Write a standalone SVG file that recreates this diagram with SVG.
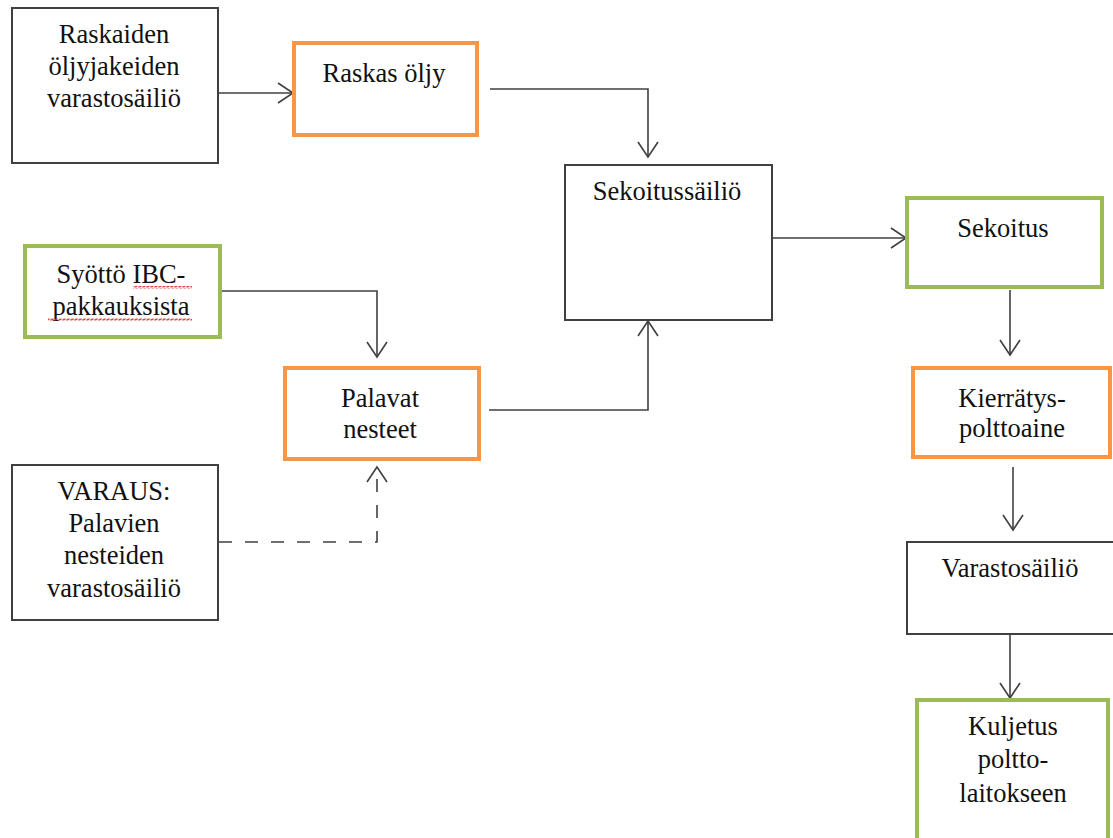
<svg xmlns="http://www.w3.org/2000/svg" width="1113" height="838" viewBox="0 0 1113 838">
<style>
.box{fill:#fff;stroke:#404040;stroke-width:2}
.orange{fill:#fff;stroke:#F79646;stroke-width:4}
.green{fill:#fff;stroke:#9BBB59;stroke-width:4}
text{font-family:"Liberation Serif","Times New Roman",serif;font-size:26.5px;fill:#111;text-anchor:middle}
.conn{fill:none;stroke:#404040;stroke-width:1.6}
.dash{stroke-dasharray:13 13}
</style>
<defs>
<marker id="arr" markerUnits="userSpaceOnUse" markerWidth="20" markerHeight="26" viewBox="-17 -13 20 26" refX="0" refY="0" orient="auto">
<path d="M-15,-10 L0,0 L-15,10" fill="none" stroke="#404040" stroke-width="1.6"/>
</marker>
<pattern id="squig" width="4" height="3" patternUnits="userSpaceOnUse">
<path d="M0,2.5 L1,0.5 L3,2.5 L4,0.5" fill="none" stroke="#e03030" stroke-width="0.9"/>
</pattern>
</defs>
<g id="connectors">
<path class="conn" d="M219,93 L293,93" marker-end="url(#arr)"/>
<path class="conn" d="M490,89 L648,89 L648,157" marker-end="url(#arr)"/>
<path class="conn" d="M772,238 L906,238" marker-end="url(#arr)"/>
<path class="conn" d="M1010,290 L1010,355" marker-end="url(#arr)"/>
<path class="conn" d="M1013,467 L1013,530" marker-end="url(#arr)"/>
<path class="conn" d="M1010,634 L1010,698" marker-end="url(#arr)"/>
<path class="conn" d="M220,291 L377,291 L377,357" marker-end="url(#arr)"/>
<path class="conn" d="M489,410 L648,410 L648,321" marker-end="url(#arr)"/>
<path class="conn dash" d="M219,542 L377,542 L377,467" marker-end="url(#arr)"/>
</g>
<g id="n1">
<rect class="box" x="12" y="8" width="206" height="155"/>
<text x="114" y="43">Raskaiden</text>
<text x="114" y="75">öljyjakeiden</text>
<text x="114" y="107">varastosäiliö</text>
</g>
<g id="n2">
<rect class="orange" x="294" y="43" width="183" height="92"/>
<text x="384" y="82">Raskas öljy</text>
</g>
<g id="n3">
<rect class="box" x="565" y="165" width="207" height="155"/>
<text x="667" y="200">Sekoitussäiliö</text>
</g>
<g id="n4">
<rect class="green" x="907" y="198" width="195" height="89"/>
<text x="1003" y="237">Sekoitus</text>
</g>
<g id="n5">
<rect class="green" x="25" y="246" width="195" height="91"/>
<text x="121" y="283">Syöttö IBC-</text>
<text x="121" y="315">pakkauksista</text>
<rect x="133" y="286" width="59" height="3" fill="url(#squig)"/>
<rect x="48" y="318" width="144" height="3" fill="url(#squig)"/>
</g>
<g id="n6">
<rect class="orange" x="285" y="368" width="194" height="91"/>
<text x="380" y="407">Palavat</text>
<text x="380" y="438">nesteet</text>
</g>
<g id="n7">
<rect class="box" x="12" y="465" width="206" height="155"/>
<text x="114" y="500">VARAUS:</text>
<text x="114" y="532">Palavien</text>
<text x="114" y="564">nesteiden</text>
<text x="114" y="597">varastosäiliö</text>
</g>
<g id="n8">
<rect class="orange" x="913" y="368" width="197" height="89"/>
<text x="1012" y="407">Kierrätys-</text>
<text x="1012" y="437">polttoaine</text>
</g>
<g id="n9">
<rect class="box" x="907" y="542" width="210" height="92"/>
<text x="1010" y="577">Varastosäiliö</text>
</g>
<g id="n10">
<rect class="green" x="917" y="700" width="191" height="150"/>
<text x="1013" y="735">Kuljetus</text>
<text x="1013" y="768">poltto-</text>
<text x="1013" y="802">laitokseen</text>
</g>
</svg>
